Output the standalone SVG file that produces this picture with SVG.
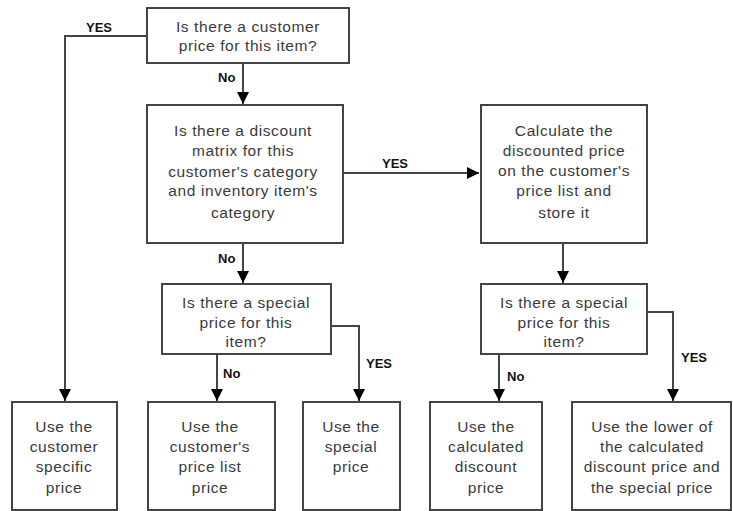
<svg xmlns="http://www.w3.org/2000/svg" width="733" height="511" viewBox="0 0 733 511">
<defs>
<marker id="ah" viewBox="0 0 10 10" refX="10" refY="5" markerWidth="6" markerHeight="6" orient="auto" markerUnits="strokeWidth"><path d="M0,0 L10,5 L0,10 z" fill="#000"/></marker>
</defs>
<style>
.box{fill:#fff;stroke:#444;stroke-width:2}
.t{font-family:"Liberation Sans",Arial,sans-serif;font-size:15.5px;letter-spacing:0.6px;fill:#3a3a3a;text-anchor:middle}
.lbl{font-family:"Liberation Sans",Arial,sans-serif;font-size:13px;font-weight:bold;fill:#111}
.c{fill:none;stroke:#444;stroke-width:2;marker-end:url(#ah)}
</style>
<rect width="733" height="511" fill="#fff"/>
<g id="connectors">
<path class="c" d="M147,36 H65 V401"/>
<path class="c" d="M243,63 V104"/>
<path class="c" d="M343,173 H479"/>
<path class="c" d="M243,243 V283"/>
<path class="c" d="M563,243 V283"/>
<path class="c" d="M217,354 V401"/>
<path class="c" d="M331,326 H359 V401"/>
<path class="c" d="M499,354 V401"/>
<path class="c" d="M647,312 H673 V401"/>
<text class="lbl" x="86" y="32">YES</text>
<text class="lbl" x="218" y="82">No</text>
<text class="lbl" x="382" y="168">YES</text>
<text class="lbl" x="218" y="263">No</text>
<text class="lbl" x="223" y="378">No</text>
<text class="lbl" x="366" y="368">YES</text>
<text class="lbl" x="507" y="381">No</text>
<text class="lbl" x="681" y="362">YES</text>
</g>
<g id="q1"><rect class="box" x="147" y="8" width="202" height="55"/>
<text class="t" x="248" y="32">Is there a customer</text><text class="t" x="248" y="51">price for this item?</text></g>
<g id="q2"><rect class="box" x="147" y="105" width="196" height="138"/>
<text class="t" x="243" y="136">Is there a discount</text><text class="t" x="243" y="156">matrix for this</text><text class="t" x="243" y="177">customer's category</text><text class="t" x="243" y="196">and inventory item's</text><text class="t" x="243" y="218">category</text></g>
<g id="calc"><rect class="box" x="481" y="105" width="166" height="138"/>
<text class="t" x="564" y="136">Calculate the</text><text class="t" x="564" y="156">discounted price</text><text class="t" x="564" y="176">on the customer's</text><text class="t" x="564" y="196">price list and</text><text class="t" x="564" y="218">store it</text></g>
<g id="q3"><rect class="box" x="162" y="284" width="169" height="70"/>
<text class="t" x="246" y="308">Is there a special</text><text class="t" x="246" y="328">price for this</text><text class="t" x="246" y="347">item?</text></g>
<g id="q4"><rect class="box" x="481" y="284" width="166" height="70"/>
<text class="t" x="564" y="308">Is there a special</text><text class="t" x="564" y="328">price for this</text><text class="t" x="564" y="347">item?</text></g>
<g id="r1"><rect class="box" x="12" y="402" width="105" height="108"/>
<text class="t" x="64" y="432">Use the</text><text class="t" x="64" y="452">customer</text><text class="t" x="64" y="472">specific</text><text class="t" x="64" y="493">price</text></g>
<g id="r2"><rect class="box" x="148" y="402" width="127" height="108"/>
<text class="t" x="210" y="432">Use the</text><text class="t" x="210" y="452">customer's</text><text class="t" x="210" y="472">price list</text><text class="t" x="210" y="493">price</text></g>
<g id="r3"><rect class="box" x="303" y="402" width="97" height="108"/>
<text class="t" x="351" y="432">Use the</text><text class="t" x="351" y="452">special</text><text class="t" x="351" y="472">price</text></g>
<g id="r4"><rect class="box" x="430" y="402" width="112" height="108"/>
<text class="t" x="486" y="432">Use the</text><text class="t" x="486" y="452">calculated</text><text class="t" x="486" y="472">discount</text><text class="t" x="486" y="493">price</text></g>
<g id="r5"><rect class="box" x="572" y="402" width="159" height="108"/>
<text class="t" x="652" y="432">Use the lower of</text><text class="t" x="652" y="452">the calculated</text><text class="t" x="652" y="472">discount price and</text><text class="t" x="652" y="493">the special price</text></g>
</svg>
